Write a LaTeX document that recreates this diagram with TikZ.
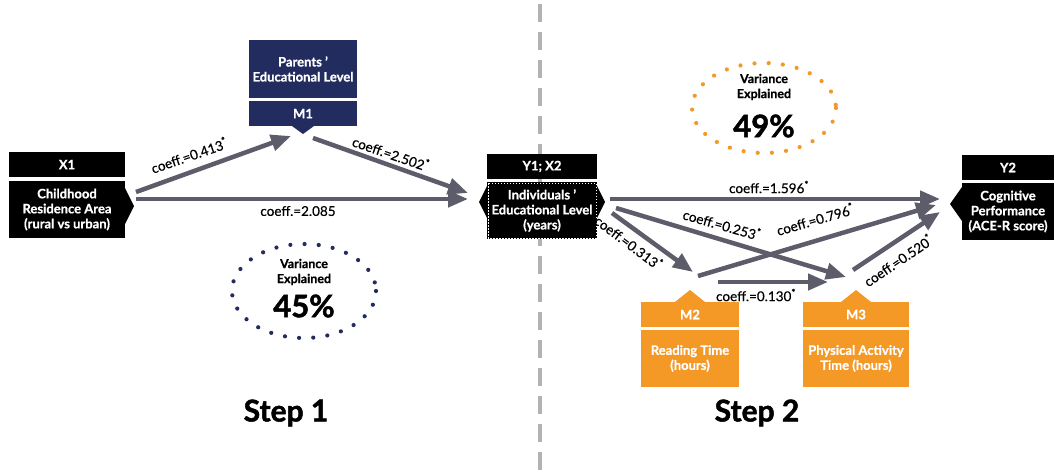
\documentclass[tikz,border=0pt]{standalone}
\usepackage{fontspec}
\setmainfont{Lato}[BoldFeatures={FakeBold=0.8}]
\newfontfamily\heavy{Lato}[BoldFeatures={FakeBold=1.6}]
\newfontfamily\semi{Lato}[UprightFeatures={FakeBold=0.35}]
\usetikzlibrary{arrows.meta}
\definecolor{navy}{RGB}{34,44,94}
\definecolor{orng}{RGB}{244,152,38}
\definecolor{arr}{RGB}{92,92,106}
\definecolor{sep}{RGB}{178,178,178}
\tikzset{
  hdr/.style={text=white, font=\bfseries\fontsize{13}{15}\selectfont, inner sep=0pt, align=center, minimum height=24pt},
  bodytxt/.style={text=white, font=\bfseries\fontsize{13}{15}\selectfont, inner sep=0pt, align=center},
  coef/.style={font=\semi\fontsize{13.5}{15}\selectfont, inner sep=1pt},
  conn/.style={draw=arr, line width=4.5pt, -{Triangle[length=20pt,width=16pt]}, shorten >=0pt},
  dots/.style={line width=4.2pt, line cap=round, dash pattern=on 0pt off 14.2pt},
  vtxt/.style={font=\bfseries\fontsize{12.5}{15}\selectfont, align=center, inner sep=0pt},
  bigpct/.style={font=\heavy\bfseries\fontsize{31}{31}\selectfont, inner sep=0pt},
  steptxt/.style={font=\heavy\bfseries\fontsize{30}{30}\selectfont, inner sep=0pt}
}
\begin{document}
\begin{tikzpicture}[x=1pt,y=-1pt]
\useasboundingbox (0,0) rectangle (1061,472);
\fill[white] (0,0) rectangle (1061,472);
% separator
\draw[sep, line width=3.5pt, dash pattern=on 18pt off 10pt] (540,4) -- (540,472);

% X1
\fill[black] (9,152) rectangle (125,177);
\fill[black] (9,181) rectangle (125,238);
\fill[black] (125,188) -- (134,206) -- (125,224) -- cycle;
\node[hdr] (x1h) at (67,164.5) {X1};
\node[bodytxt] (x1) at (67,209.5) {Childhood\\Residence Area\\(rural vs urban)};

% M1
\fill[navy] (249,40) rectangle (357,98);
\fill[navy] (249,101) rectangle (357,126);
\fill[navy] (292,126) -- (303,134) -- (314,126) -- cycle;
\node[bodytxt] (m1) at (303,69) {Parents '\\Educational Level};
\node[hdr] (m1h) at (303,113.5) {M1};

% Y1;X2
\fill[black] (487,154) rectangle (597,179);
\fill[black] (487,182) rectangle (597,239);
\fill[black] (487,186) -- (479,202) -- (487,218) -- cycle;
\fill[black] (597,186) -- (605,202) -- (597,218) -- cycle;
\draw[white, line width=0.7pt, dash pattern=on 1.5pt off 1.5pt] (488,183) rectangle (596,238);
\node[hdr] (y1h) at (542,166.5) {Y1; X2};
\node[bodytxt] (y1) at (542,210.5) {Individuals '\\Educational Level\\(years)};

% Y2
\fill[black] (962,155) rectangle (1054,180);
\fill[black] (962,183) rectangle (1054,240);
\fill[black] (962,187) -- (950,204) -- (962,221) -- cycle;
\node[hdr] (y2h) at (1008,167.5) {Y2};
\node[bodytxt] (y2) at (1008,211.5) {Cognitive\\Performance\\(ACE-R score)};

% M2
\fill[orng] (675,302) -- (690,290) -- (705,302) -- cycle;
\fill[orng] (641,302) rectangle (739,327);
\fill[orng] (641,330) rectangle (739,387);
\node[hdr] (m2h) at (690,314.5) {M2};
\node[bodytxt] (m2) at (690,358.5) {Reading Time\\(hours)};

% M3
\fill[orng] (841,302) -- (856,290) -- (871,302) -- cycle;
\fill[orng] (803,302) rectangle (909,327);
\fill[orng] (803,330) rectangle (909,387);
\node[hdr] (m3h) at (856,314.5) {M3};
\node[bodytxt] (m3) at (856,358.5) {Physical Activity\\Time (hours)};

% connector end points
\coordinate (x1a) at (136,192);
\coordinate (x1b) at (136,199);
\coordinate (m1in) at (291,136);
\coordinate (m1out) at (313,138);
\coordinate (y1ina) at (468,193);
\coordinate (y1inb) at (468,199);
\coordinate (y1o1) at (610,199);
\coordinate (y1o2) at (616,208);
\coordinate (y1o3) at (612,213);
\coordinate (y2i1) at (940,199);
\coordinate (y2i2) at (936,205);
\coordinate (y2i3) at (940,212);
\coordinate (m2in) at (693,272);
\coordinate (m2o1) at (698,276);
\coordinate (m2o2) at (718,282);
\coordinate (m3in) at (846,277);
\coordinate (m3in2) at (828,282);
\coordinate (m3o) at (853,270);

% connectors
\draw[conn] (x1a) -- (m1in);
\draw[conn] (m1out) -- (y1ina);
\draw[conn] (x1b) -- (y1inb);
\draw[conn] (y1o1) -- (y2i1);
\draw[conn] (y1o2) -- (m3in);
\draw[conn] (y1o3) -- (m2in);
\draw[conn] (m2o1) -- (y2i2);
\draw[conn] (m2o2) -- (m3in2);
\draw[conn] (m3o) -- (y2i3);

% labels
\node[coef, rotate=19] (l1) at (189,155) {coeff.=0.413\textsuperscript{*}};
\node[coef, rotate=-19] (l2) at (391,153) {coeff.=2.502\textsuperscript{*}};
\node[coef] (l3) at (298,211) {coeff.=2.085};
\node[coef] (l4) at (769,187) {coeff.=1.596\textsuperscript{*}};
\node[coef, rotate=-16] (l5) at (722,224) {coeff.=0.253\textsuperscript{*}};
\node[coef, rotate=-37] (l6) at (629,242) {coeff.=0.313\textsuperscript{*}};
\node[coef, rotate=16] (l7) at (815,219) {coeff.=0.796\textsuperscript{*}};
\node[coef] (l8) at (756,295) {coeff.=0.130\textsuperscript{*}};
\node[coef, rotate=34] (l9) at (898,260) {coeff.=0.520\textsuperscript{*}};

% variance explained
\draw[navy, dots] (304,291) ellipse [x radius=72, y radius=47];
\node[vtxt] (v1) at (304,272) {Variance\\Explained};
\node[bigpct] (p1) at (304,306) {45\%};
\draw[orng, dots] (764,108) ellipse [x radius=72, y radius=45];
\node[vtxt] (v2) at (764,87) {Variance\\Explained};
\node[bigpct] (p2) at (764,126) {49\%};

% steps
\node[steptxt] (s1) at (286,413) {Step 1};
\node[steptxt] (s2) at (757,413) {Step 2};
\end{tikzpicture}
\end{document}
